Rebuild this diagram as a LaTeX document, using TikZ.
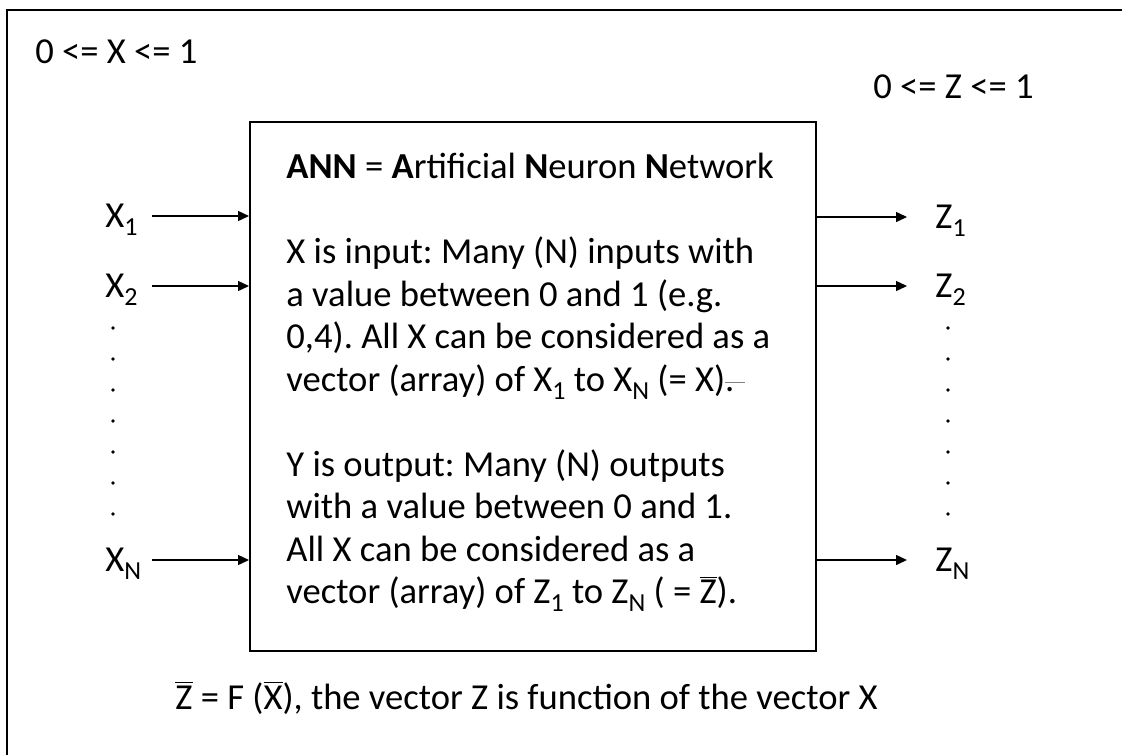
\documentclass[tikz,border=0pt]{standalone}
\usepackage{fontspec}
\setmainfont{Carlito}
\usetikzlibrary{arrows.meta,positioning}
\tikzstyle{post}=[-{Triangle[length=5.5pt,width=5pt]},line width=0.7pt]
\tikzstyle{lbl}=[inner sep=0pt]
\tikzstyle{dotmark}=[circle,fill,inner sep=0pt,minimum size=1.8pt]
\newcommand{\vbar}[1]{$\overline{\mbox{#1}}$}
\newcommand{\subs}[1]{\raisebox{-0.22em}{\fontsize{13}{13}\selectfont #1}}

\begin{document}
\frenchspacing
\begin{tikzpicture}[x=0.5pt,y=-0.5pt,font=\fontsize{18.3}{21.25}\selectfont]
            \useasboundingbox (0,0) rectangle (1122,755);
            \draw[line width=1.2pt] (1122,10) -- (7,10) -- (7,755);

            \node (xrange) [lbl, anchor=west] at (35,52) {0 <= X <= 1};
            \node (zrange) [lbl, anchor=west] at (873,87) {0 <= Z <= 1};

            \node (ann) [draw, line width=1pt, minimum width=283pt, minimum height=264.5pt, inner sep=0pt] at (533,386.5) {};
            \node (desc) [lbl, anchor=north west, align=left] at (286,153) {%
                \textbf{ANN} = \textbf{A}rtificial \textbf{N}euron \textbf{N}etwork\\[21.25pt]
                X is input: Many (N) inputs with\\
                a value between 0 and 1 (e.g.\\
                0,4). All X can be considered as a\\
                vector (array) of X\subs{1} to X\subs{N} (= X)\rlap{\color{gray}\rule[0.22em]{0.55em}{0.5pt}}.\\[21.25pt]
                Y is output: Many (N) outputs\\
                with a value between 0 and 1.\\
                All X can be considered as a\\
                vector (array) of Z\subs{1} to Z\subs{N} ( = \vbar{Z}).};

            % inputs
            \node (x1) [lbl, anchor=base west] at (105,227) {X\subs{1}};
            \node (x2) [lbl, anchor=base west] at (105,297) {X\subs{2}};
            \node (xn) [lbl, anchor=base west] at (105,571) {X\subs{N}};
            \coordinate (x1s) at (152,216);
            \coordinate (x2s) at (152,286);
            \coordinate (xns) at (152,560);
            \path[post] (x1s) edge (x1s -| ann.west);
            \path[post] (x2s) edge (x2s -| ann.west);
            \path[post] (xns) edge (xns -| ann.west);

            % outputs
            \node (z1) [lbl, anchor=base west] at (935,228) {Z\subs{1}};
            \node (z2) [lbl, anchor=base west] at (935,297) {Z\subs{2}};
            \node (zn) [lbl, anchor=base west] at (935,571) {Z\subs{N}};
            \coordinate (z1e) at (907,217);
            \coordinate (z2e) at (907,286);
            \coordinate (zne) at (907,560);
            \path[post] (z1e -| ann.east) edge (z1e);
            \path[post] (z2e -| ann.east) edge (z2e);
            \path[post] (zne -| ann.east) edge (zne);

            \foreach \i in {0,...,6}{
                \node (xd\i) [dotmark] at (113,{328+31*\i}) {};
                \node (zd\i) [dotmark] at (948,{328+31*\i}) {};
            }

            \node (func) [lbl, anchor=base west] at (175,709) {\vbar{Z} = F (\vbar{X}), the vector Z is function of the vector X};
        \end{tikzpicture}
\end{document}
